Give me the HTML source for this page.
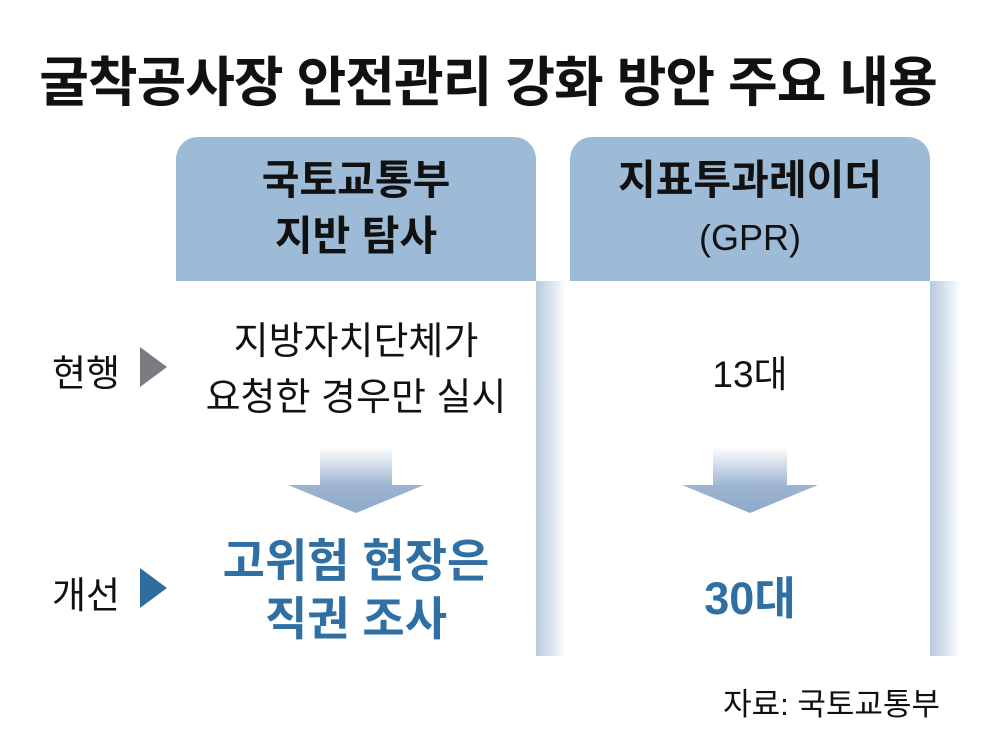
<!DOCTYPE html>
<html><head><meta charset="utf-8"><style>
html,body{margin:0;padding:0;background:#fff;}
body{width:1000px;height:741px;position:relative;overflow:hidden;font-family:"Liberation Sans","Noto Sans CJK KR",sans-serif;color:#111;}
.a{position:absolute;}
.t{white-space:nowrap;text-align:center;}
.hdr{background:#9dbbd7;border-radius:22px 22px 0 0;}
.strip{background:linear-gradient(to right,#b9c9de,#e6edf5 70%,#fff);}
</style></head><body>
<div class="a t" style="left:0;top:38px;width:976px;font-size:54px;font-weight:bold;letter-spacing:-1px;">굴착공사장 안전관리 강화 방안 주요 내용</div>

<div class="a hdr" style="left:176px;top:137px;width:360px;height:144px;"></div>
<div class="a hdr" style="left:570px;top:137px;width:360px;height:144px;"></div>
<div class="a strip" style="left:536px;top:281px;width:30px;height:375px;"></div>
<div class="a strip" style="left:930px;top:281px;width:30px;height:375px;"></div>

<div class="a t" style="left:176px;top:152px;width:360px;font-size:41px;font-weight:bold;line-height:56px;">국토교통부<br>지반 탐사</div>
<div class="a t" style="left:570px;top:152px;width:360px;font-size:41px;font-weight:bold;line-height:56px;">지표투과레이더<br><span style="font-weight:normal;font-size:36px;">(GPR)</span></div>

<div class="a t" style="left:52px;top:343px;font-size:37px;">현행</div>
<div class="a" style="left:140px;top:347px;width:0;height:0;border-top:20px solid transparent;border-bottom:20px solid transparent;border-left:27px solid #7a7c80;"></div>
<div class="a t" style="left:52px;top:565px;font-size:37px;">개선</div>
<div class="a" style="left:140px;top:568px;width:0;height:0;border-top:20px solid transparent;border-bottom:20px solid transparent;border-left:27px solid #2f6d9e;"></div>

<div class="a t" style="left:176px;top:314px;width:360px;font-size:38px;line-height:56px;">지방자치단체가<br>요청한 경우만 실시</div>
<div class="a t" style="left:570px;top:344px;width:360px;font-size:37px;">13대</div>

<svg class="a" style="left:0;top:0" width="1000" height="741">
<defs><linearGradient id="g" x1="0" y1="0" x2="0" y2="1"><stop offset="0" stop-color="#fff"/><stop offset="0.6" stop-color="#9cb4d0"/><stop offset="1" stop-color="#8fa9c9"/></linearGradient></defs>
<polygon points="320,447 392,447 392,485 424,485 356,513 288,485 320,485" fill="url(#g)"/>
<polygon points="713,447 787,447 787,485 818,485 750,513 682,485 713,485" fill="url(#g)"/>
</svg>

<div class="a t" style="left:176px;top:532px;width:360px;font-size:46px;font-weight:bold;line-height:58px;color:#2f6fa3;">고위험 현장은<br>직권 조사</div>
<div class="a t" style="left:570px;top:562px;width:360px;font-size:45px;font-weight:bold;color:#2f6fa3;">30대</div>

<div class="a t" style="left:700px;top:679px;width:240px;text-align:right;font-size:31px;">자료: 국토교통부</div>
</body></html>
